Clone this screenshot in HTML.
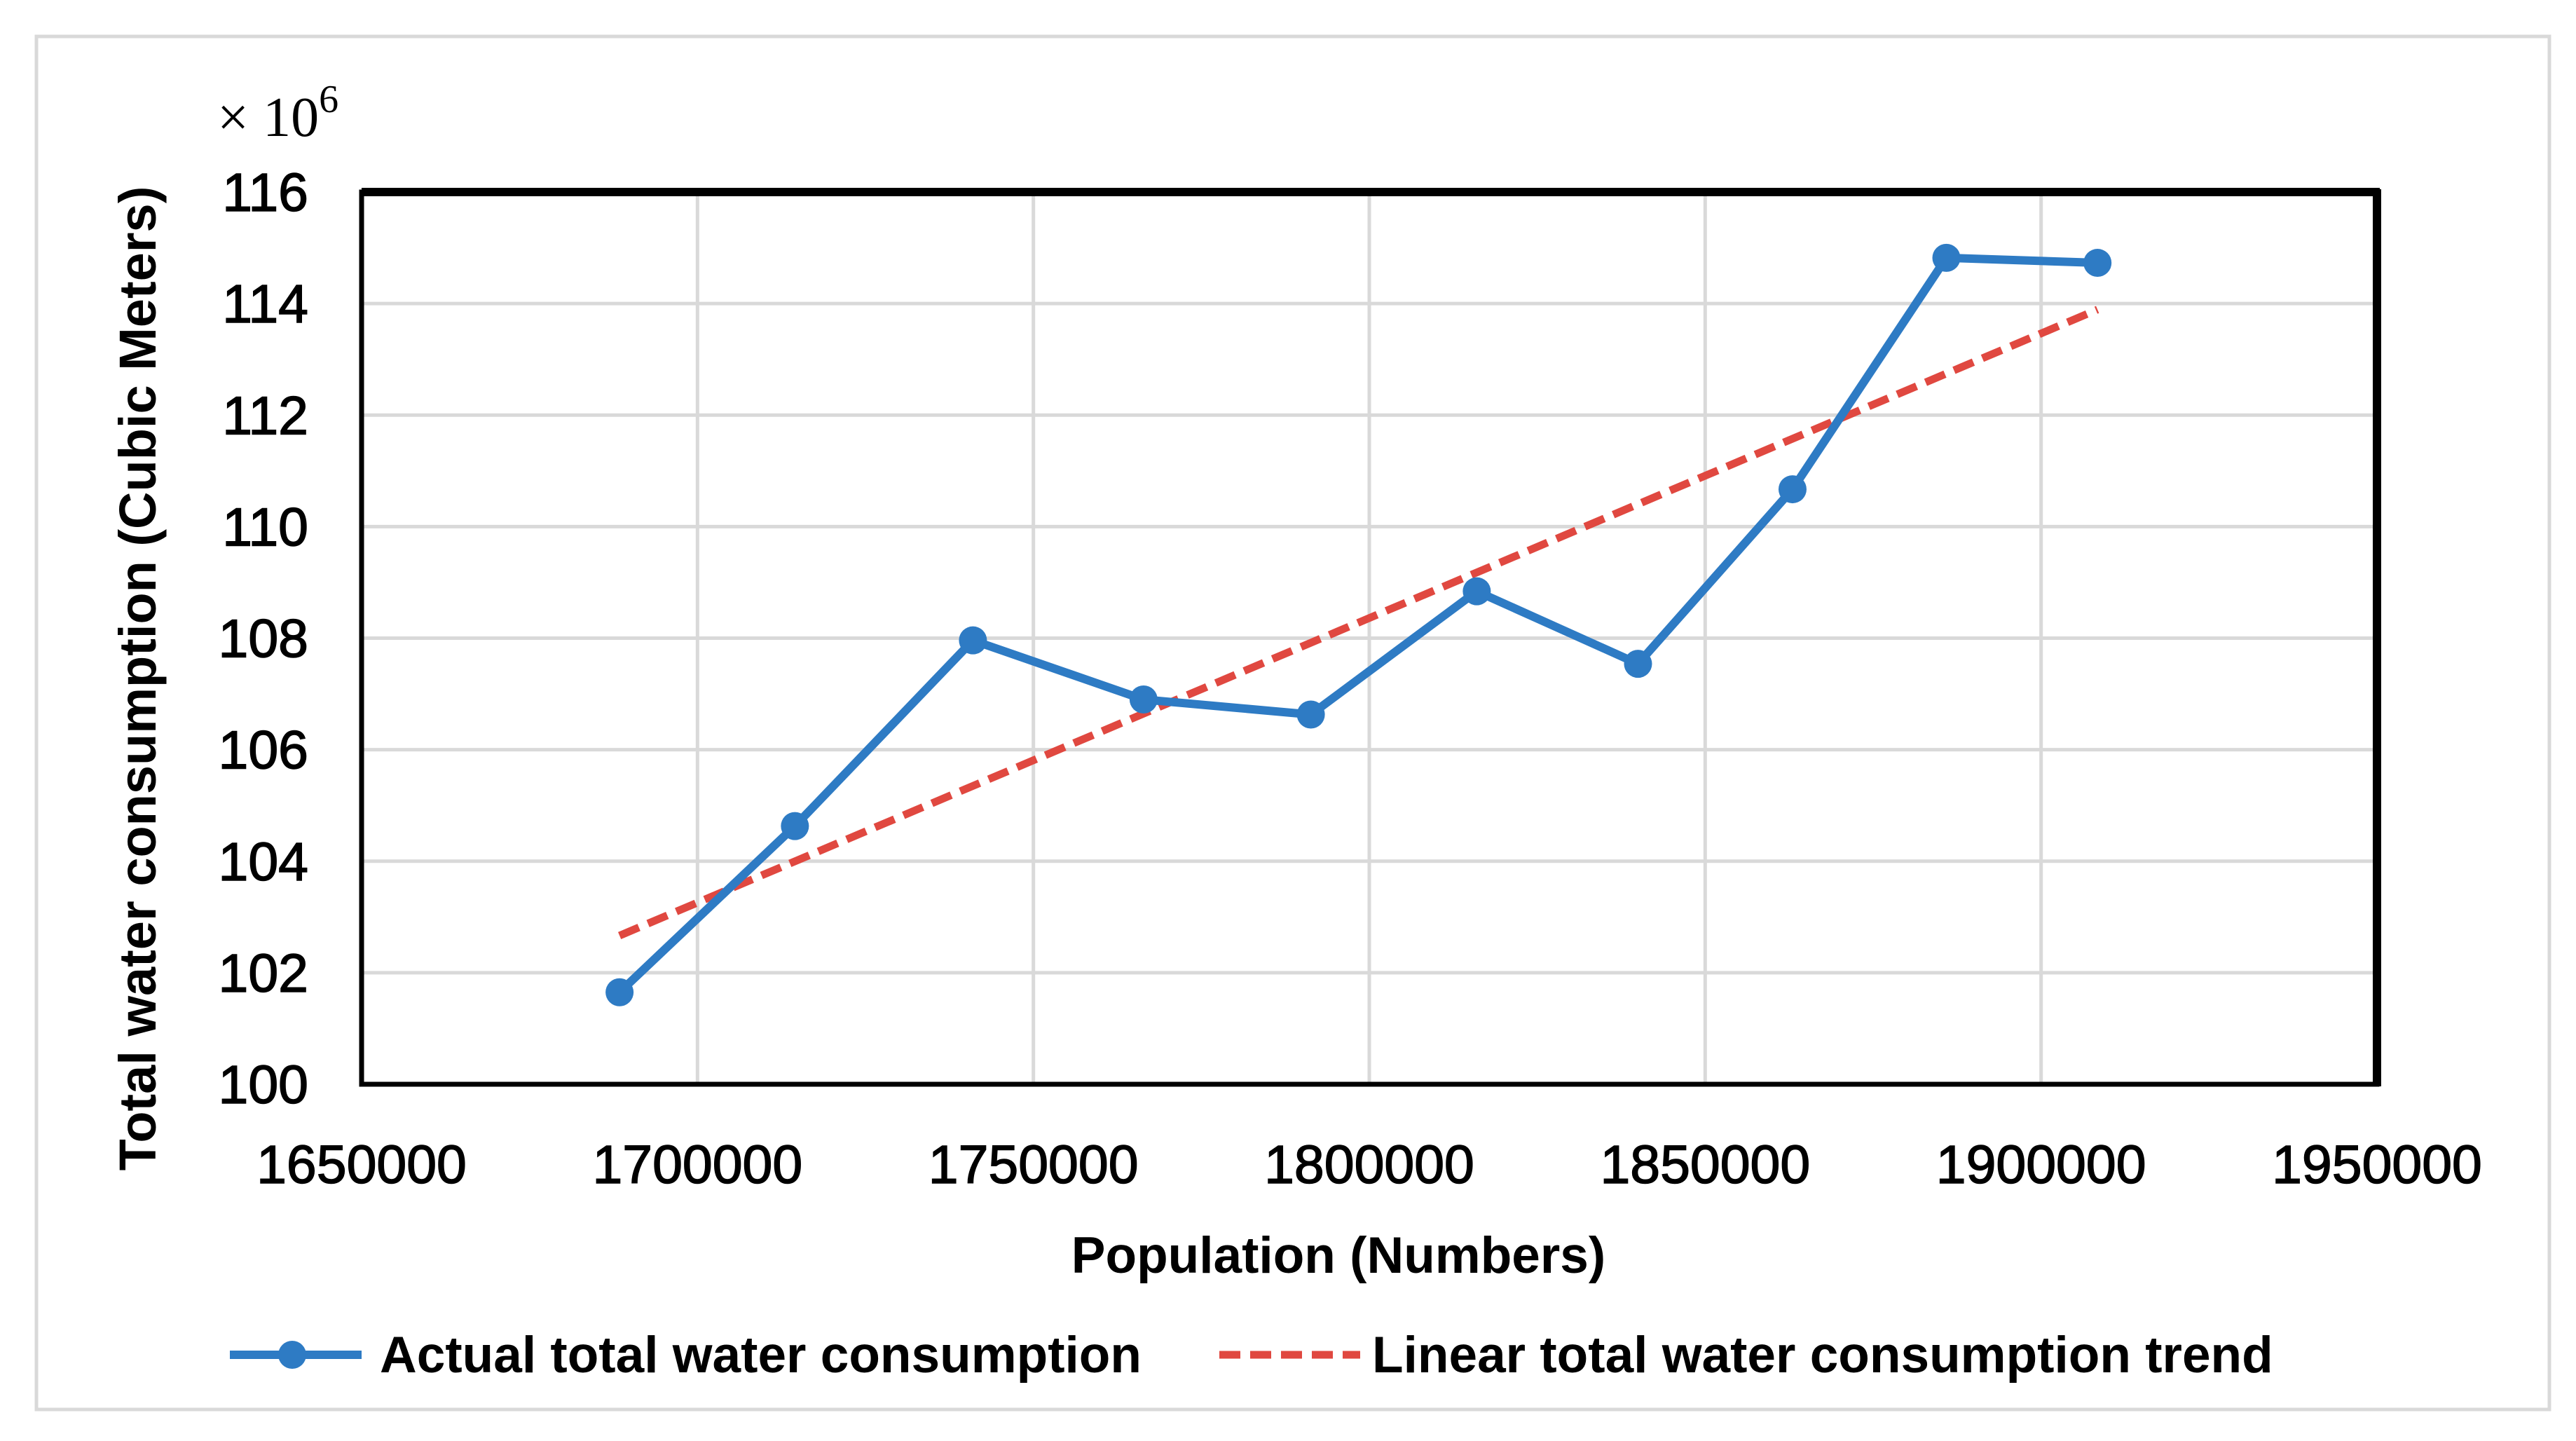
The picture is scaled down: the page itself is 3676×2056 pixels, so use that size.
<!DOCTYPE html>
<html><head><meta charset="utf-8"><style>
html,body{margin:0;padding:0;background:#fff;}
svg{display:block;}
</style></head><body>
<svg id="chart" width="3676" height="2056" viewBox="0 0 3676 2056" xmlns="http://www.w3.org/2000/svg">
<rect x="52" y="52" width="3586" height="1959" fill="#fff" stroke="#d9d9d9" stroke-width="5"/>
<g id="grid"></g>
<g id="ticks"></g>
<g id="series"></g>
<path d="M516,1547 L516,274 L3392,274 L3392,1547 Z" fill="none" stroke="#000" stroke-width="7"/>
<line x1="516" y1="274" x2="3396" y2="274" stroke="#000" stroke-width="12"/>
<line x1="3392" y1="270" x2="3392" y2="1550" stroke="#000" stroke-width="12"/>
<text x="310" y="194" font-family="Liberation Serif, serif" font-size="80" fill="#000">× 10<tspan dy="-34" font-size="56">6</tspan></text>
<text transform="translate(222,968) rotate(-90)" text-anchor="middle" font-family="Liberation Sans, sans-serif" font-weight="bold" font-size="74" fill="#000">Total water consumption (Cubic Meters)</text>
<text x="1910" y="1816" text-anchor="middle" font-family="Liberation Sans, sans-serif" font-weight="bold" font-size="73" fill="#000">Population (Numbers)</text>
<g>
<g>
<line x1="328" y1="1933" x2="516" y2="1933" stroke="#2e7bc4" stroke-width="12"/>
<circle cx="417" cy="1933" r="20" fill="#2e7bc4"/>
<text x="542" y="1958" font-family="Liberation Sans, sans-serif" font-weight="bold" font-size="73" fill="#000">Actual total water consumption</text>
</g>
<g>
<line x1="1740" y1="1933" x2="1941" y2="1933" stroke="#e04840" stroke-width="11" stroke-dasharray="30 14"/>
<text x="1958" y="1958" font-family="Liberation Sans, sans-serif" font-weight="bold" font-size="73" fill="#000">Linear total water consumption trend</text>
</g>
</g>
</svg>
<script>
const population = [1688400, 1714500, 1741000, 1766400, 1791300, 1816000, 1840000, 1863000, 1885900, 1908400];
const consumption = [101.65, 104.63, 107.96, 106.90, 106.63, 108.84, 107.54, 110.67, 114.82, 114.73];
const xTicks = [1650000, 1700000, 1750000, 1800000, 1850000, 1900000, 1950000];
const yTicks = [100, 102, 104, 106, 108, 110, 112, 114, 116];

const NS = 'http://www.w3.org/2000/svg';
const L = 516, R = 3392, T = 274, B = 1547;
const xMin = 1650000, xMax = 1950000, yMin = 100, yMax = 116;
function xs(v){ return L + (v - xMin) / (xMax - xMin) * (R - L); }
function ys(v){ return B - (v - yMin) / (yMax - yMin) * (B - T); }
function mk(tag, attrs, parent){
  const e = document.createElementNS(NS, tag);
  for (const k in attrs) e.setAttribute(k, attrs[k]);
  parent.appendChild(e);
  return e;
}
const grid = document.getElementById('grid');
const ticks = document.getElementById('ticks');
const series = document.getElementById('series');

xTicks.forEach(v => {
  const g = mk('line', {x1: xs(v), x2: xs(v), y1: T, y2: B, stroke: '#d9d9d9', 'stroke-width': 5}, grid);
  
  
  const t = mk('text', {x: xs(v), y: 1688, 'text-anchor': 'middle', 'font-family': 'Liberation Sans, sans-serif', 'font-size': 77, fill: '#000', stroke: '#000', 'stroke-width': 1.5}, ticks);
  t.textContent = v;
  
  
});
yTicks.forEach(v => {
  const g = mk('line', {x1: L, x2: R, y1: ys(v), y2: ys(v), stroke: '#d9d9d9', 'stroke-width': 5}, grid);
  
  
  const t = mk('text', {x: 440, y: ys(v) + 27, 'text-anchor': 'end', 'font-family': 'Liberation Sans, sans-serif', 'font-size': 77, fill: '#000', stroke: '#000', 'stroke-width': 1.5}, ticks);
  t.textContent = v;
  
  
});

// linear least-squares trend
const n = population.length;
const mx = population.reduce((a,b)=>a+b,0)/n, my = consumption.reduce((a,b)=>a+b,0)/n;
let sxy = 0, sxx = 0;
for (let i = 0; i < n; i++){ sxy += (population[i]-mx)*(consumption[i]-my); sxx += (population[i]-mx)**2; }
const slope = sxy / sxx, icpt = my - slope * mx;
const x0 = population[0], x1 = population[n-1];
const trend = mk('line', {x1: xs(x0), y1: ys(slope*x0+icpt), x2: xs(x1), y2: ys(slope*x1+icpt), stroke: '#e04840', 'stroke-width': 11, 'stroke-dasharray': '30 14'}, series);



const pts = population.map((p, i) => xs(p) + ',' + ys(consumption[i])).join(' ');
const line = mk('polyline', {points: pts, fill: 'none', stroke: '#2e7bc4', 'stroke-width': 12, 'stroke-linejoin': 'round'}, series);


population.forEach((p, i) => {
  const c = mk('circle', {cx: xs(p), cy: ys(consumption[i]), r: 20, fill: '#2e7bc4'}, series);
  
  
});
</script>
</body></html>
